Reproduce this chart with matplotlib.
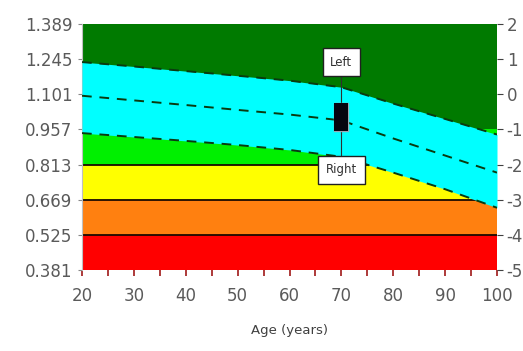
import matplotlib
matplotlib.use("Agg")
import matplotlib.pyplot as plt
import numpy as np

# ---- data ----
ages = [20, 30, 40, 50, 60, 70, 80, 90, 100]
ref_upper = [1.233, 1.215, 1.196, 1.177, 1.157, 1.130, 1.063, 1.000, 0.936]
ref_mean = [1.095, 1.076, 1.057, 1.037, 1.018, 0.994, 0.920, 0.850, 0.780]
ref_lower = [0.942, 0.926, 0.910, 0.893, 0.873, 0.845, 0.780, 0.712, 0.636]

band_edges = [0.381, 0.525, 0.669, 0.813, 0.957, 1.389]
band_colors = ["#ff0000", "#ff8010", "#ffff00", "#00f000", "#007a00"]
boundary_lines = [0.525, 0.669, 0.813]

y_ticks = [0.381, 0.525, 0.669, 0.813, 0.957, 1.101, 1.245, 1.389]
t_ticks = [-5, -4, -3, -2, -1, 0, 1, 2]
x_ticks = [20, 30, 40, 50, 60, 70, 80, 90, 100]

patient_age = 70
patient_bmd = [1.038, 0.978]
label_left = "Left"
label_right = "Right"
label_left_y = 1.233
label_right_y = 0.791
x_label = "Age (years)"

# ---- figure ----
W, H = 523, 351
fig = plt.figure(figsize=(W / 100, H / 100), dpi=100)
ax = fig.add_axes([82 / W, (H - 270) / H, 415 / W, 246 / H])

xmin, xmax = ages[0], ages[-1]
for lo, hi, c in zip(band_edges[:-1], band_edges[1:], band_colors):
    ax.fill_between([xmin, xmax], lo, hi, color=c, linewidth=0, zorder=1)
for b in boundary_lines:
    ax.plot([xmin, xmax], [b, b], color="#1a0a00", lw=1.3, zorder=2)

ax.fill_between(ages, ref_lower, ref_upper, color="#00ffff", linewidth=0, zorder=3)
for series in (ref_upper, ref_mean, ref_lower):
    ax.plot(ages, series, color="#0a3a10", lw=1.4, ls=(0, (5, 4)), zorder=4)

# connector + labels
ax.plot([patient_age, patient_age], [label_right_y + 0.04, label_left_y - 0.04],
        color="#303030", lw=0.8, zorder=5)
ax.plot([patient_age] * len(patient_bmd), patient_bmd, ls="none", marker="s",
        markersize=10.5, markerfacecolor="#05050f", markeredgecolor="#9aa8b4",
        markeredgewidth=1.0, zorder=6)
ax.plot([patient_age] * len(patient_bmd), patient_bmd, ls="none", marker="s",
        markersize=9.5, markerfacecolor="#05050f", markeredgecolor="#05050f",
        markeredgewidth=0, zorder=6.5)
bbox = dict(boxstyle="square,pad=0.65", facecolor="white", edgecolor="#202020", lw=1.0)
ax.text(patient_age, label_left_y, label_left, ha="center", va="center",
        fontsize=8.5, color="#303030", bbox=bbox, zorder=7)
ax.text(patient_age, label_right_y, label_right, ha="center", va="center",
        fontsize=8.5, color="#303030", bbox=bbox, zorder=7)

ax.set_xlim(xmin, xmax)
ax.set_ylim(band_edges[0], band_edges[-1])
ax.set_yticks(y_ticks)
ax.set_yticklabels([f"{v:.3f}" for v in y_ticks])
ax.set_xticks(x_ticks)
ax.set_xticks(np.arange(25, 100, 10), minor=True)
ax.tick_params(axis="x", which="both", direction="out", length=4, width=1.2,
               color="#a01818", labelsize=12, labelcolor="#5a5a5a", pad=8)
ax.tick_params(axis="y", direction="out", length=3, color="#888888",
               labelsize=12, labelcolor="#5a5a5a", pad=4)
for s in ["top", "right", "bottom"]:
    ax.spines[s].set_visible(False)
ax.spines["left"].set_color("#c0c0c0")
ax.set_xlabel(x_label, fontsize=9.5, color="#404040", labelpad=14)

ax2 = ax.twinx()
ax2.set_position(ax.get_position())
ax2.set_ylim(-5, 2)
ax2.set_yticks(t_ticks)
ax2.set_yticklabels([str(t) for t in t_ticks])
ax2.tick_params(axis="y", direction="out", length=4, color="#404040",
                labelsize=12, labelcolor="#5a5a5a", pad=3)
for s in ax2.spines.values():
    s.set_visible(False)

fig.savefig("out.png", dpi=100)
